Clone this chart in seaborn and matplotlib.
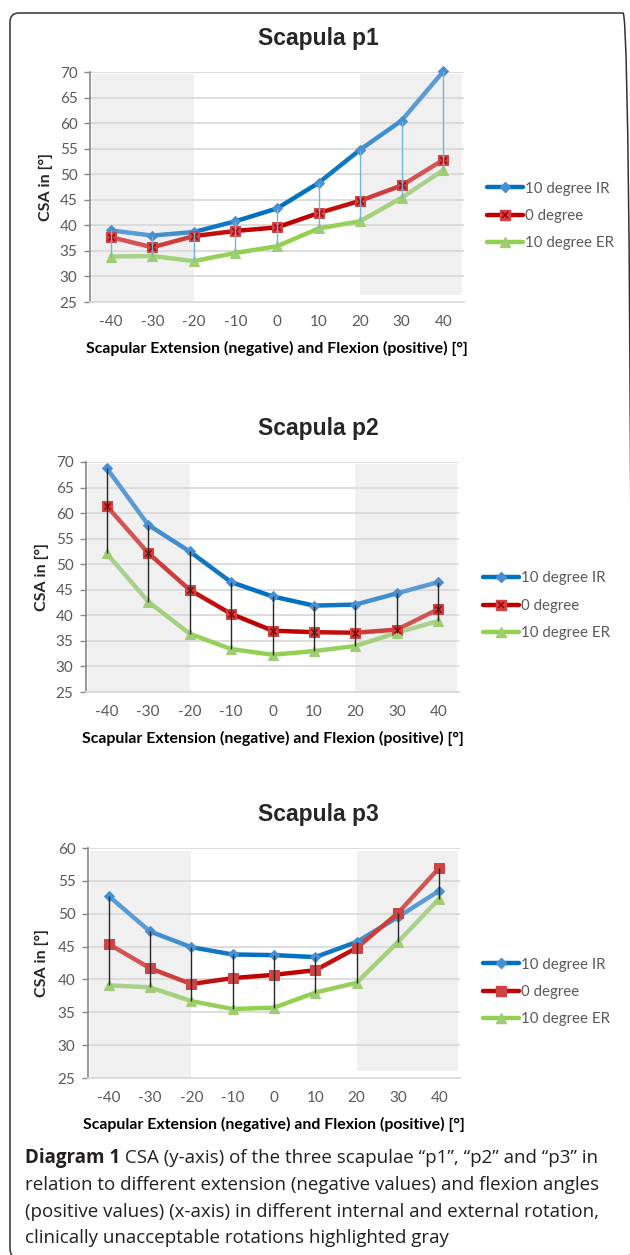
import numpy as np
import pandas as pd
import matplotlib
matplotlib.use("Agg")
import matplotlib.pyplot as plt
import seaborn as sns
from matplotlib.patches import Rectangle, FancyBboxPatch
from matplotlib.lines import Line2D
from matplotlib.collections import LineCollection
from matplotlib.colors import to_rgb

# ---- data ----
angles = [-40, -30, -20, -10, 0, 10, 20, 30, 40]
tick_labels = ["-40", "-30", "-20", "-10", "0", "10", "20", "30", "40"]
series_names = ["10 degree IR", "0 degree", "10 degree ER"]

p1_ir = [39.0, 38.0, 38.7, 40.8, 43.3, 48.3, 54.8, 60.5, 70.1]
p1_0 = [37.7, 35.7, 37.9, 38.9, 39.6, 42.4, 44.8, 47.8, 52.8]
p1_er = [33.9, 34.0, 33.0, 34.6, 35.9, 39.4, 40.8, 45.4, 50.8]

p2_ir = [68.8, 57.7, 52.5, 46.5, 43.7, 41.9, 42.1, 44.3, 46.5]
p2_0 = [61.4, 52.2, 45.0, 40.3, 37.0, 36.7, 36.6, 37.2, 41.2]
p2_er = [52.1, 42.7, 36.4, 33.4, 32.3, 33.0, 34.0, 36.6, 38.9]

p3_ir = [52.7, 47.3, 44.9, 43.8, 43.7, 43.4, 45.7, 49.5, 53.5]
p3_0 = [45.4, 41.7, 39.3, 40.2, 40.7, 41.4, 44.8, 50.1, 57.0]
p3_er = [39.1, 38.8, 36.7, 35.5, 35.7, 38.0, 39.5, 45.7, 52.3]

titles = ["Scapula p1", "Scapula p2", "Scapula p3"]
y_ranges = [(25, 70), (25, 70), (25, 60)]
caption_bold = "Diagram 1"
caption_rest = " CSA (y-axis) of the three scapulae \u201cp1\u201d, \u201cp2\u201d and \u201cp3\u201d in"
caption_lines = [
    "relation to different extension (negative values) and flexion angles",
    "(positive values) (x-axis) in different internal and external rotation,",
    "clinically unacceptable rotations highlighted gray",
]

colors = {"10 degree IR": "#0070c0", "0 degree": "#c00000", "10 degree ER": "#92d050"}
light = {"10 degree IR": "#5b9bd5", "0 degree": "#d25555", "10 degree ER": "#a9d18e"}
face = {"10 degree IR": "#4a8fd0", "0 degree": "#cc4444", "10 degree ER": "#9fcd72"}
markers = {"10 degree IR": "D", "0 degree": "s", "10 degree ER": "^"}
msize = {"10 degree IR": 5.5, "0 degree": 7.5, "10 degree ER": 7.5}

sns.set_theme(style="white")
plt.rcParams["font.family"] = ["Lato", "DejaVu Sans"]

W, H = 630, 1255
fig = plt.figure(figsize=(W / 100, H / 100), dpi=100)


def frac(left, top, right, bottom):
    return [left / W, 1 - bottom / H, (right - left) / W, (bottom - top) / H]


def gradient_line(ax, xy, name):
    # excel-style line: lighter towards both ends, full colour in the middle
    segs = np.stack([xy[:-1], xy[1:]], axis=1)
    mids = np.abs(segs[:, :, 0].mean(axis=1))
    w = np.clip((mids - 12) / 18, 0, 1)[:, None]
    cols = (1 - w) * np.array(to_rgb(colors[name])) + w * np.array(to_rgb(light[name]))
    lc = LineCollection(segs, colors=cols, linewidths=3.2, capstyle="round",
                        joinstyle="round", zorder=3, clip_on=False)
    ax.add_collection(lc)


def panel(box, ir, zero, er, title, yr, title_y, ylabel_x, hilo_color, shade, xmarks,
          legend_xy):
    ax = fig.add_axes(frac(*box))
    df = pd.DataFrame({
        "angle": angles * 3,
        "csa": ir + zero + er,
        "rotation": [series_names[0]] * 9 + [series_names[1]] * 9 + [series_names[2]] * 9,
    })
    ax.set_xlim(-45, 45)
    ax.set_ylim(*yr)
    # gray shading for clinically unacceptable rotations
    (l_top, r_bot, r_top) = shade
    ax.add_patch(Rectangle((-44.6, yr[0]), 24.6, l_top - yr[0], color="#f0f0f0", lw=0, zorder=0))
    ax.add_patch(Rectangle((20, r_bot), 24.4, r_top - r_bot, color="#f0f0f0", lw=0, zorder=0))
    for v in np.arange(yr[0] + 5, yr[1] + 1, 5):
        ax.axhline(v, color="#d9d9d9", lw=1.3, zorder=1)

    sns.lineplot(data=df, x="angle", y="csa", hue="rotation", style="rotation",
                 palette=colors, markers=markers, dashes=False, lw=3.2, legend=False,
                 ax=ax, zorder=4, clip_on=False)
    for ln, name in zip(ax.lines[-3:], series_names):
        gradient_line(ax, ln.get_xydata(), name)
        ln.set_linestyle("none")
        ln.set_markersize(msize[name])
        ln.set_markerfacecolor(face[name])
        ln.set_markeredgecolor(face[name])
    if xmarks:
        ax.scatter(angles, zero, marker="x", s=22, color="#b00000", linewidths=1.2, zorder=4.5)

    lows = np.minimum(np.minimum(ir, zero), er)
    highs = np.maximum(np.maximum(ir, zero), er)
    ax.vlines(angles, lows, highs, color=hilo_color, lw=1.0, zorder=5)

    ax.set_xticks(angles)
    ax.set_xticklabels(tick_labels)
    ax.set_yticks(np.arange(yr[0], yr[1] + 1, 5))
    ax.tick_params(axis="x", length=0, pad=9, labelsize=11, labelcolor="#595959")
    ax.tick_params(axis="y", length=4, width=1, color="#868686", direction="out",
                   pad=5, labelsize=11, labelcolor="#595959", left=True)
    for s in ["top", "right"]:
        ax.spines[s].set_visible(False)
    ax.spines["left"].set_color("#868686")
    ax.spines["bottom"].set_color("#d9d9d9")
    ax.spines["left"].set_linewidth(1.2)
    ax.spines["bottom"].set_linewidth(1.3)
    ax.set_xlabel("Scapular Extension (negative) and Flexion (positive) [\u00b0]",
                  fontsize=11.4, fontweight="bold", labelpad=9, color="black")
    ax.set_ylabel("")
    fig.text(ylabel_x / W, 1 - (box[1] + box[3]) / 2 / H, "CSA in [\u00b0]", rotation=90,
             ha="center", va="center", fontsize=11.5, fontweight="bold")
    fig.text(318 / W, 1 - title_y / H, title, ha="center", va="center",
             fontsize=16.5, fontweight="bold", family=["Liberation Sans", "DejaVu Sans"])

    handles = []
    for name in series_names:
        h = Line2D([], [], color=colors[name], lw=3.2, marker=markers[name],
                   markersize=msize[name], markerfacecolor=face[name],
                   markeredgecolor=face[name])
        if name == "0 degree" and xmarks:
            hx = Line2D([], [], lw=0, marker="x", markersize=5, color="#b00000", mew=1.2)
            handles.append((h, hx))
        else:
            handles.append(h)
    ax.legend(handles, series_names, loc="center left",
              bbox_to_anchor=(legend_xy[0] / W, 1 - legend_xy[1] / H),
              bbox_transform=fig.transFigure, frameon=False, fontsize=10.8,
              labelcolor="#595959", handlelength=2.4, handletextpad=0.15,
              labelspacing=0.9, borderpad=0, borderaxespad=0)
    return ax


panel((90, 72, 464, 302), p1_ir, p1_0, p1_er, titles[0], y_ranges[0], 38, 46,
      "#6fb7d2", (69.6, 26.3, 69.6), True, (487, 216))
panel((86, 462, 459, 692), p2_ir, p2_0, p2_er, titles[1], y_ranges[1], 428, 42,
      "#262626", (69.6, 25, 69.6), True, (483, 606))
panel((88, 848, 460, 1078), p3_ir, p3_0, p3_er, titles[2], y_ranges[2], 815, 42,
      "#262626", (59.6, 26.0, 59.6), False, (483, 992))

# caption below the charts
cap_font = ["Open Sans", "DejaVu Sans"]
cap_size = 13.5
t0 = fig.text(25 / W, 1 - 1158 / H, caption_bold, ha="left", va="center", fontsize=cap_size,
              fontweight="bold", family=cap_font, color="#231f20")
fig.canvas.draw()
bb = t0.get_window_extent()
fig.text(bb.x1 / W, 1 - 1158 / H, caption_rest, ha="left", va="center", fontsize=cap_size,
         family=cap_font, color="#231f20")
for i, line in enumerate(caption_lines):
    fig.text(25 / W, 1 - (1185 + 26.7 * i) / H, line, ha="left", va="center",
             fontsize=cap_size, family=cap_font, color="#231f20")

# rounded frame, partly cut by the image edge
frame = FancyBboxPatch((0.10, -0.03), 6.22, 12.42 + 0.03,
                       boxstyle="round,pad=0,rounding_size=0.09",
                       transform=fig.dpi_scale_trans, fill=False, ec="#333333", lw=1.1)
fig.patches.append(frame)

fig.savefig("out.png", dpi=100)
